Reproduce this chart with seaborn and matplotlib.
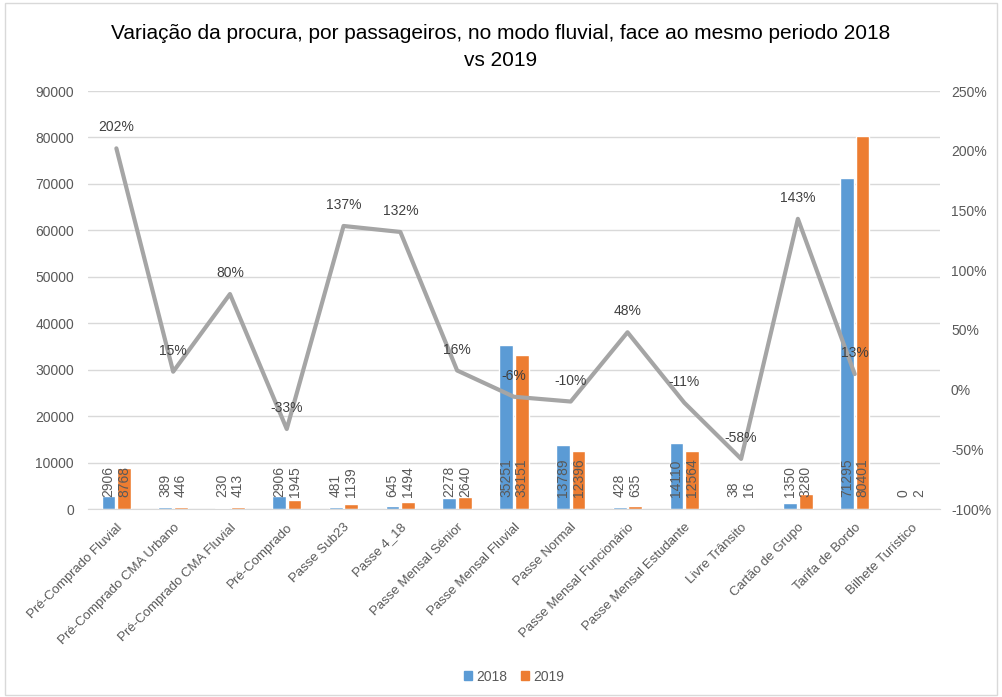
import numpy as np
import pandas as pd
import matplotlib
matplotlib.use("Agg")
import matplotlib.pyplot as plt
import seaborn as sns
from matplotlib.patches import Rectangle, Patch
from matplotlib.ticker import FuncFormatter

categories = ["Pré-Comprado Fluvial", "Pré-Comprado CMA Urbano", "Pré-Comprado CMA Fluvial",
              "Pré-Comprado", "Passe Sub23", "Passe 4_18", "Passe Mensal Sénior",
              "Passe Mensal Fluvial", "Passe Normal", "Passe Mensal Funcionário",
              "Passe Mensal Estudante", "Livre Trânsito", "Cartão de Grupo",
              "Tarifa de Bordo", "Bilhete Turístico"]
values_2018 = [2906, 389, 230, 2906, 481, 645, 2278, 35251, 13789, 428, 14110, 38, 1350, 71295, 0]
values_2019 = [8768, 446, 413, 1945, 1139, 1494, 2640, 33151, 12396, 635, 12564, 16, 3280, 80401, 2]
variation_pct = [202, 15, 80, -33, 137, 132, 16, -6, -10, 48, -11, -58, 143, 13, np.nan]
series_names = ["2018", "2019"]

BLUE = "#5B9BD5"
ORANGE = "#ED7D31"
GRAY_LINE = "#A5A5A5"
TXT = "#595959"

sns.set_style("white")
plt.rcParams["font.family"] = ["Liberation Sans", "DejaVu Sans"]

df = pd.DataFrame({
    "cat": categories * 2,
    "ano": [series_names[0]] * len(categories) + [series_names[1]] * len(categories),
    "val": values_2018 + values_2019,
})

fig = plt.figure(figsize=(10.02, 6.97), dpi=100)
ax = fig.add_axes([0.0878, 0.2697, 0.8502, 0.5997])

sns.barplot(data=df, x="cat", y="val", hue="ano", order=categories, hue_order=series_names,
            palette=[BLUE, ORANGE], width=0.55, gap=0.12, saturation=1, ax=ax, legend=False)

ax.set_ylim(0, 90000)
ax.set_yticks(np.arange(0, 90001, 10000))
ax.yaxis.grid(True, color="#D9D9D9", linewidth=1)
ax.set_axisbelow(True)
for s in ["top", "right", "left"]:
    ax.spines[s].set_visible(False)
ax.spines["bottom"].set_color("#D9D9D9")
ax.set_xlabel("")
ax.set_ylabel("")
ax.tick_params(axis="y", colors=TXT, labelsize=10, length=0, pad=10)
ax.tick_params(axis="x", colors=TXT, labelsize=9.5, length=0, pad=9)
ax.set_xticks(range(len(categories)))
ax.set_xticklabels(categories, rotation=45, ha="right", rotation_mode="anchor")
ax.set_xlim(-0.5, len(categories) - 0.5)

# bar value labels at inside base
for cont in ax.containers:
    for rect, v in zip(cont, cont.datavalues):
        cx = rect.get_x() + rect.get_width() / 2
        ax.annotate(f"{int(v)}", xy=(cx, 0), xytext=(0, 9), textcoords="offset points",
                    rotation=90, ha="center", va="bottom", fontsize=10, color=TXT)

# secondary axis line
ax2 = ax.twinx()
ax2.set_position(ax.get_position())
pos = np.arange(len(categories))
sns.lineplot(x=pos, y=variation_pct, color=GRAY_LINE, linewidth=3, ax=ax2, legend=False)
ax2.set_ylim(-100, 250)
ax2.set_yticks(np.arange(-100, 251, 50))
ax2.yaxis.set_major_formatter(FuncFormatter(lambda v, p: f"{int(v)}%"))
ax2.tick_params(axis="y", colors=TXT, labelsize=10, length=0, pad=8)
for s in ["top", "right", "left", "bottom"]:
    ax2.spines[s].set_visible(False)
ax2.set_xlim(-0.5, len(categories) - 0.5)
for x, p in zip(pos, variation_pct):
    if not np.isnan(p):
        ax2.annotate(f"{int(p)}%", xy=(x, p), xytext=(0, 10), textcoords="offset points",
                     ha="center", va="bottom", fontsize=10, color="#404040")

fig.suptitle("Variação da procura, por passageiros, no modo fluvial, face ao mesmo periodo 2018\nvs 2019",
             y=0.965, fontsize=15, color="#000000", linespacing=1.5)

handles = [Patch(color=BLUE, label=series_names[0]), Patch(color=ORANGE, label=series_names[1])]
fig.legend(handles=handles, loc="center", bbox_to_anchor=(0.513, 0.029), ncol=2, frameon=False,
           fontsize=10, handlelength=0.6, handleheight=0.6, handletextpad=0.3, columnspacing=1.0,
           labelcolor=TXT)

fig.patches.append(Rectangle((0.005, 0.003), 0.99, 0.992, transform=fig.transFigure,
                             fill=False, edgecolor="#D9D9D9", linewidth=1))

fig.savefig("out.png", dpi=100)
